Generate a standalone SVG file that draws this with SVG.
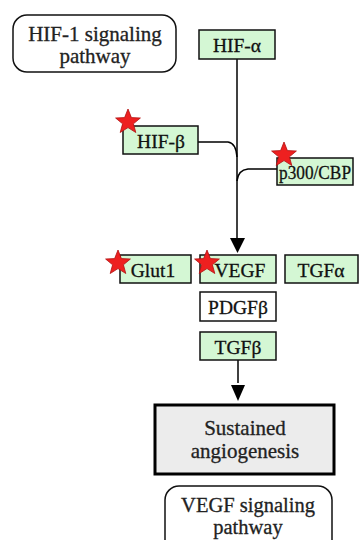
<svg xmlns="http://www.w3.org/2000/svg" width="361" height="540" viewBox="0 0 361 540">
<defs>
<style>
.g{fill:#d4f7d4;stroke:#111;stroke-width:1.5}
.w{fill:#fff;stroke:#111;stroke-width:1.5}
.t{font-family:"Liberation Serif","Times New Roman",serif;font-size:19.5px;fill:#111;stroke:#111;stroke-width:0.3;text-anchor:middle}
.big{font-family:"Liberation Serif","Times New Roman",serif;font-size:21px;fill:#222;stroke:#222;stroke-width:0.3;text-anchor:middle}
.pw{fill:#fff;stroke:#111;stroke-width:1.5}
.ln{fill:none;stroke:#000;stroke-width:1.5}
.star{fill:#ee2020;stroke:#b01010;stroke-width:0.8}
</style>
<polygon id="star" class="star" points="0,-13 3.4,-4.4 12.4,-4 5.4,1.8 7.8,10.5 0,5.6 -7.8,10.5 -5.4,1.8 -12.4,-4 -3.4,-4.4"/>
</defs>
<rect width="361" height="540" fill="#fff"/>
<g id="hif1-pathway">
<rect class="pw" x="13" y="15" width="163" height="57" rx="14"/>
<text class="big" x="95" y="41">HIF-1 signaling</text>
<text class="big" x="95" y="63">pathway</text>
</g>
<g id="connectors">
<line class="ln" x1="237" y1="59" x2="237" y2="240"/>
<polygon points="230,238 245,238 237.5,253" fill="#000"/>
<path class="ln" d="M198,142 H228 Q236,143 237,157"/>
<path class="ln" d="M277,169 H248 Q238,170 237,181"/>
<line class="ln" x1="238" y1="360" x2="238" y2="383"/>
<polygon points="231,385 245,385 238,401" fill="#000"/>
</g>
<g id="hif-alpha">
<rect class="g" x="199" y="30" width="76" height="29"/>
<text class="t" x="237" y="52">HIF-α</text>
</g>
<g id="hif-beta">
<rect class="g" x="123" y="126" width="75" height="28"/>
<text class="t" x="161" y="148">HIF-β</text>
<use href="#star" x="128" y="122"/>
</g>
<g id="p300cbp">
<rect class="g" x="277" y="158" width="76" height="27"/>
<text class="t" x="315" y="179" textLength="72" lengthAdjust="spacingAndGlyphs">p300/CBP</text>
<use href="#star" x="284" y="155"/>
</g>
<g id="glut1">
<rect class="g" x="120" y="255" width="71" height="28"/>
<text class="t" x="153" y="277">Glut1</text>
<use href="#star" x="118" y="263"/>
</g>
<g id="vegf">
<rect class="g" x="200" y="255" width="76" height="28"/>
<text class="t" x="240" y="277">VEGF</text>
<use href="#star" x="207" y="263"/>
</g>
<g id="tgfa">
<rect class="g" x="285" y="255" width="73" height="28"/>
<text class="t" x="321" y="277">TGFα</text>
</g>
<g id="pdgfb">
<rect class="w" x="200" y="292" width="76" height="29"/>
<text class="t" x="238" y="314">PDGFβ</text>
</g>
<g id="tgfb">
<rect class="g" x="200" y="332" width="76" height="28"/>
<text class="t" x="238" y="354">TGFβ</text>
</g>
<g id="sustained-angiogenesis">
<rect x="155" y="405" width="179" height="69" fill="#ececec" stroke="#000" stroke-width="3"/>
<text class="big" x="245" y="435">Sustained</text>
<text class="big" x="245" y="458">angiogenesis</text>
</g>
<g id="vegf-pathway">
<rect class="pw" x="165" y="486" width="167" height="70" rx="14"/>
<text class="big" x="248" y="512" style="font-size:20.5px">VEGF signaling</text>
<text class="big" x="248" y="534" style="font-size:20.5px">pathway</text>
</g>
</svg>
